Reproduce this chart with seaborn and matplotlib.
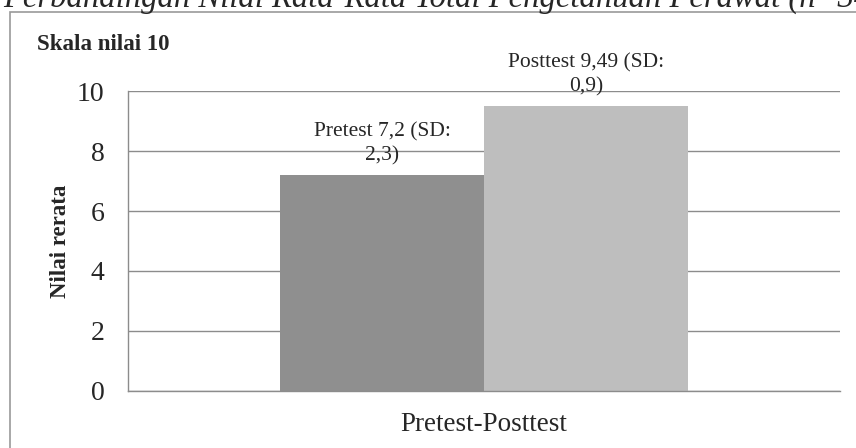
import pandas as pd
import matplotlib.pyplot as plt
import seaborn as sns
from matplotlib.patches import Rectangle

# data
kategori = ['Pretest-Posttest', 'Pretest-Posttest']
kelompok = ['Pretest', 'Posttest']
nilai_rerata = [7.2, 9.49]
nilai_teks = ['7,2', '9,49']
sd_teks = ['2,3', '0,9']
warna = ['#8f8f8f', '#bebebe']

if __name__ == "__main__":
    df = pd.DataFrame({'kategori': kategori, 'kelompok': kelompok, 'nilai': nilai_rerata})

    sns.set_style('white')
    plt.rcParams['font.family'] = ['Liberation Serif', 'DejaVu Serif']

    fig = plt.figure(figsize=(8.56, 4.48), dpi=100)
    ax = fig.add_axes([128 / 856, 1 - 391 / 448, 712 / 856, 300 / 448])

    sns.barplot(data=df, x='kategori', y='nilai', hue='kelompok', hue_order=kelompok,
                palette=warna, width=0.572, gap=0, saturation=1, legend=False,
                linewidth=0, ax=ax)

    # label di atas batang
    for cont, k, v, s in zip(ax.containers, kelompok, nilai_teks, sd_teks):
        ax.bar_label(cont, labels=[f'{k} {v} (SD:\n{s})'], padding=7, fontsize=15.5,
                     linespacing=1.32, multialignment='center')

    ax.set_ylim(0, 10)
    ax.set_yticks([0, 2, 4, 6, 8, 10])
    ax.set_xlim(-0.5, 0.5)
    ax.grid(axis='y', color='#8c8c8c', linewidth=1)
    ax.set_axisbelow(True)
    for sp in ['top', 'right']:
        ax.spines[sp].set_visible(False)
    for sp in ['left', 'bottom']:
        ax.spines[sp].set_color('#8c8c8c')
        ax.spines[sp].set_linewidth(1)
    ax.tick_params(axis='y', length=0, pad=17, labelsize=20)
    ax.tick_params(axis='x', length=0, pad=15, labelsize=19.5)
    ax.set_xlabel('')
    ax.set_ylabel('Nilai rerata', fontsize=16.5, fontweight='bold')
    ax.yaxis.label.set_verticalalignment('center')
    ax.yaxis.set_label_coords(-67 / 712, 0.5)

    # bingkai luar
    fig.patches.append(Rectangle((10 / 856, -0.05), 1.1, 1 - 12 / 448 + 0.05,
                                 transform=fig.transFigure, fill=False,
                                 edgecolor='#999999', linewidth=1.2))

    fig.text(37 / 856, 1 - 45 / 448, 'Skala nilai 10', fontsize=16.5, fontweight='bold', va='center')
    fig.text(0.004, 1 - 7 / 448, 'Perbandingan Nilai Rata-Rata Total Pengetahuan Perawat (n=34)',
             fontsize=23.5, fontstyle='italic', va='baseline')

    plt.savefig('out.png', dpi=100)
